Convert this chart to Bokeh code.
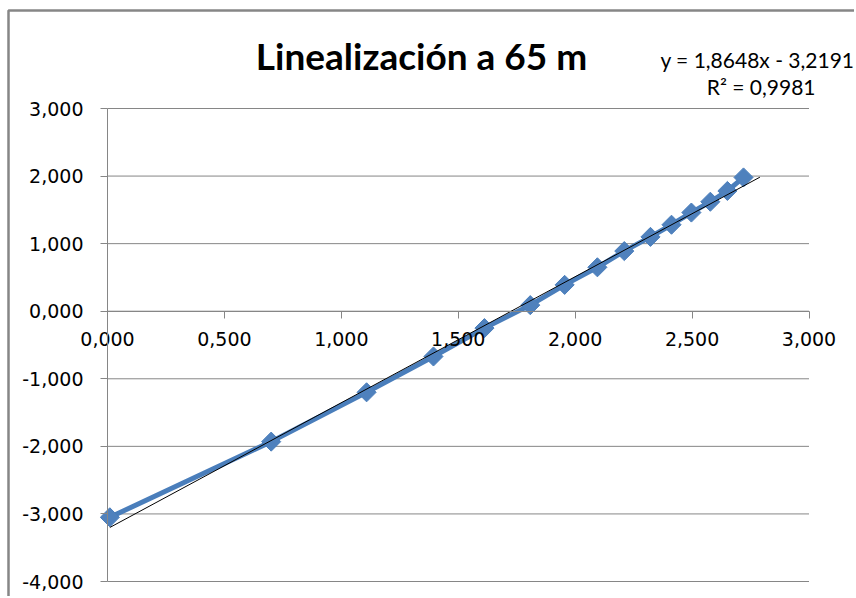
import numpy as np
from bokeh.plotting import figure
from bokeh.models import FixedTicker, ColumnDataSource
from bokeh.core.properties import value
from bokeh.embed import file_html
from bokeh.resources import INLINE

# ---- data ----
x_vals = [0.010, 0.700, 1.108, 1.394, 1.612, 1.808, 1.955, 2.095, 2.210,
          2.322, 2.412, 2.497, 2.578, 2.651, 2.720]
y_vals = [-3.05, -1.93, -1.20, -0.67, -0.25, 0.09, 0.39, 0.65, 0.89,
          1.10, 1.28, 1.46, 1.62, 1.78, 1.98]
trend_slope = 1.8648
trend_intercept = -3.2191
trend_x_range = [0.01, 2.79]

x_ticks = [0.0, 0.5, 1.0, 1.5, 2.0, 2.5, 3.0]
x_tick_labels = ["0,000", "0,500", "1,000", "1,500", "2,000", "2,500", "3,000"]
y_ticks = [-4, -3, -2, -1, 0, 1, 2, 3]
y_tick_labels = ["-4,000", "-3,000", "-2,000", "-1,000", "0,000", "1,000", "2,000", "3,000"]

title_text = "Linealización a 65 m"
eq_text = "y = 1,8648x - 3,2191"
r2_text = "R² = 0,9981"

GRAY = "#868686"
BLUE_LINE = "#4A7EBB"
BLUE_FILL = "#4F81BD"

# ---- layout: canvas == frame, pixel <-> data helpers ----
W, H = 854, 596
PX_X0, PX_X3 = 107.0, 808.5     # pixel of x=0 and x=3
PX_Y3, PX_YM4 = 108.0, 581.0    # pixel of y=3 and y=-4
sx = (PX_X3 - PX_X0) / 3.0
sy = (PX_YM4 - PX_Y3) / 7.0


def dx(px):
    return (px - PX_X0) / sx


def dy(py):
    return 3.0 - (py - PX_Y3) / sy


p = figure(width=W, height=H, output_backend="svg", toolbar_location=None,
           x_range=(dx(0), dx(W)), y_range=(dy(H), dy(0)),
           min_border=0)
p.title.visible = False
p.outline_line_color = None
p.background_fill_color = "white"
p.border_fill_color = "white"

# axes crossing at 0
p.xaxis.ticker = FixedTicker(ticks=x_ticks)
p.xaxis.major_label_overrides = {t: l for t, l in zip(x_ticks, x_tick_labels)}
p.yaxis.ticker = FixedTicker(ticks=y_ticks)
p.yaxis.major_label_overrides = {t: l for t, l in zip(y_ticks, y_tick_labels)}
p.xaxis.fixed_location = 0
p.yaxis.fixed_location = 0
p.xaxis.bounds = (x_ticks[0], x_ticks[-1])
p.yaxis.bounds = (y_ticks[0], y_ticks[-1])
for ax in (p.xaxis, p.yaxis):
    ax.axis_line_color = GRAY
    ax.major_tick_line_color = GRAY
    ax.minor_tick_line_color = None
    ax.major_tick_in = 0
    ax.major_tick_out = 7
    ax.major_label_text_font = "DejaVu Sans"
    ax.major_label_text_font_size = "19px"
    ax.major_label_text_color = "black"
p.xaxis.major_label_standoff = 14
p.yaxis.major_label_standoff = 17

# horizontal gridlines between x = 0 and x = 3
p.xgrid.visible = False
p.ygrid.visible = False
p.segment(x0=[x_ticks[0]] * len(y_ticks), x1=[x_ticks[-1]] * len(y_ticks),
          y0=y_ticks, y1=y_ticks, line_color=GRAY, line_width=1, level="underlay")

# chart-area border (top and left edges visible in the reference)
p.line([dx(8), dx(8), dx(W)], [dy(H), dy(10), dy(10)], line_color=GRAY, line_width=2.5)

# series
src = ColumnDataSource(dict(x=x_vals, y=y_vals))
p.line("x", "y", source=src, line_color=BLUE_LINE, line_width=5)
p.scatter("x", "y", source=src, marker="square", angle=np.pi / 4, size=13.5,
          fill_color=BLUE_FILL, line_color=BLUE_LINE)

# linear trendline
tx = np.array(trend_x_range)
p.line(tx, trend_slope * tx + trend_intercept, line_color="black", line_width=1)

# title and trendline equation
p.text(x=[dx(421)], y=[dy(55)], text=[title_text], text_font=value("Lato"),
       text_font_style="bold", text_font_size="37px",
       text_align="center", text_baseline="middle", text_color="black")
p.text(x=[dx(854), dx(815)], y=[dy(58.5), dy(86)], text=[eq_text, r2_text],
       text_font=value("Lato"), text_font_size="21px",
       text_align="right", text_baseline="middle", text_color="black")

open("out.html", "w").write(file_html(p, INLINE))
